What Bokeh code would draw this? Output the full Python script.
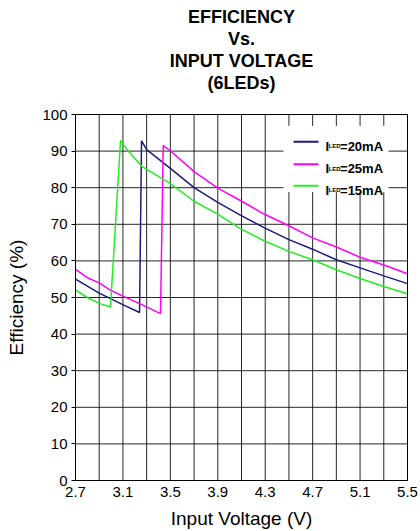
from bokeh.plotting import figure
from bokeh.models import FixedTicker, Label, Range1d, Title
from bokeh.embed import file_html
from bokeh.resources import INLINE

# ---- data ----
v15 = [2.7, 2.8, 2.9, 2.995, 3.08, 3.136, 3.26, 3.5, 3.7, 3.9, 4.09, 4.29, 4.5, 4.7, 4.9, 5.1, 5.3, 5.5]
e15 = [52.1, 50.0, 48.4, 47.4, 92.9, 90.4, 85.8, 81.1, 76.3, 72.8, 68.8, 65.5, 62.6, 60.3, 57.6, 55.2, 53.0, 51.0]

v20 = [2.7, 2.9, 3.09, 3.24, 3.257, 3.3, 3.5, 3.7, 3.9, 4.09, 4.29, 4.5, 4.7, 4.9, 5.1, 5.3, 5.5]
e20 = [55.0, 51.2, 48.2, 45.9, 92.8, 90.4, 85.3, 80.0, 76.0, 72.5, 69.1, 65.8, 63.2, 60.3, 58.1, 55.9, 53.8]

v25 = [2.7, 2.8, 2.9, 3.0, 3.09, 3.25, 3.417, 3.44, 3.5, 3.7, 3.9, 4.09, 4.29, 4.5, 4.7, 4.9, 5.1, 5.3, 5.5]
e25 = [57.7, 55.4, 54.0, 51.9, 50.5, 48.2, 45.6, 91.5, 90.1, 84.4, 79.9, 76.5, 72.8, 69.6, 66.3, 63.8, 61.0, 58.9, 56.5]

x_ticks = [2.7, 3.1, 3.5, 3.9, 4.3, 4.7, 5.1, 5.5]
x_grid = [2.7, 2.9, 3.1, 3.3, 3.5, 3.7, 3.9, 4.1, 4.3, 4.5, 4.7, 4.9, 5.1, 5.3, 5.5]
y_ticks = [0, 10, 20, 30, 40, 50, 60, 70, 80, 90, 100]

title_lines = ["EFFICIENCY", "Vs.", "INPUT VOLTAGE", "(6LEDs)"]
series_labels = ["=20mA", "=25mA", "=15mA"]
series_colors = ["#1a1a80", "#ff00ff", "#22ee22"]

FONT = "Liberation Sans"
X_MIN, X_MAX, Y_MIN, Y_MAX = 2.7, 5.5, 0, 100
# legend box (data units) where the grid is interrupted
LB_LEFT, LB_RIGHT, LB_TOP, LB_BOTTOM = 4.454, 5.34, 96.9, 78.8

p = figure(width=420, height=531, output_backend="svg", toolbar_location=None,
           x_range=Range1d(X_MIN, X_MAX), y_range=Range1d(Y_MIN, Y_MAX),
           min_border_left=75, min_border_right=13, min_border_top=114, min_border_bottom=50)

# title: p.title is outermost; extra Titles added nearest-first (first = blank spacer)
p.title.text = title_lines[0]
titles = [p.title]
spacer = Title(text=" ")
p.add_layout(spacer, "above")
titles.append(spacer)
for t in reversed(title_lines[1:]):
    tt = Title(text=t)
    p.add_layout(tt, "above")
    titles.append(tt)
for tt in titles:
    tt.align = "center"
    tt.text_font = FONT
    tt.text_font_size = "18px"
    tt.text_font_style = "bold"
    tt.text_color = "black"
    tt.standoff = 0
    tt.offset = 0

p.outline_line_color = "black"
p.outline_line_width = 1
p.outline_line_alpha = 1

p.xaxis.ticker = FixedTicker(ticks=x_ticks)
p.yaxis.ticker = FixedTicker(ticks=y_ticks)
p.grid.visible = False

# grid drawn as segments, interrupted where the legend sits
gx0, gy0, gx1, gy1 = [], [], [], []
for gx in x_grid:
    if LB_LEFT < gx < LB_RIGHT:
        gx0 += [gx, gx]; gx1 += [gx, gx]
        gy0 += [Y_MIN, LB_TOP]; gy1 += [LB_BOTTOM, Y_MAX]
    else:
        gx0.append(gx); gx1.append(gx); gy0.append(Y_MIN); gy1.append(Y_MAX)
for gy in y_ticks:
    if LB_BOTTOM < gy < LB_TOP:
        gx0 += [X_MIN, LB_RIGHT]; gx1 += [LB_LEFT, X_MAX]
        gy0 += [gy, gy]; gy1 += [gy, gy]
    else:
        gx0.append(X_MIN); gx1.append(X_MAX); gy0.append(gy); gy1.append(gy)
p.segment(x0=gx0, y0=gy0, x1=gx1, y1=gy1, line_color="black", line_alpha=0.85, line_width=1)

for ax in (p.xaxis, p.yaxis):
    ax.axis_line_color = "black"
    ax.major_tick_line_color = "black"
    ax.minor_tick_line_color = None
    ax.major_label_text_font = FONT
    ax.major_label_text_font_size = "15px"
    ax.major_label_text_color = "black"
    ax.axis_label_text_font = FONT
    ax.axis_label_text_font_size = "19px"
    ax.axis_label_text_font_style = "normal"
    ax.axis_label_text_color = "black"
    ax.major_tick_in = 0

p.xaxis.major_tick_out = 0
p.yaxis.major_tick_out = 4
p.xaxis.major_label_standoff = 6
p.yaxis.major_label_standoff = 4
p.xaxis.axis_label = "Input Voltage (V)"
p.yaxis.axis_label = "Efficiency (%)"
p.xaxis.axis_label_standoff = 8
p.yaxis.axis_label_standoff = 12

p.line(v20, e20, line_color=series_colors[0], line_width=1.5)
p.line(v25, e25, line_color=series_colors[1], line_width=1.5)
p.line(v15, e15, line_color=series_colors[2], line_width=1.5)

# ---- manual legend ----
leg_line_x = (4.539, 4.749)
leg_text_x = 4.808
leg_rows_y = [92.56, 86.43, 80.5]
for lab, col, yy in zip(series_labels, series_colors, leg_rows_y):
    p.segment(x0=[leg_line_x[0]], y0=[yy], x1=[leg_line_x[1]], y1=[yy],
              line_color=col, line_width=2)
    common = dict(x=leg_text_x, y=yy, y_offset=-4.6, text_baseline="alphabetic",
                  text_font=FONT, text_font_style="bold", text_color="black")
    p.add_layout(Label(text="I", text_font_size="13px", x_offset=0, **common))
    p.add_layout(Label(text="LED", text_font_size="6px", x_offset=3.2, **common))
    p.add_layout(Label(text=lab, text_font_size="13px", x_offset=14.6, **common))

open("out.html", "w").write(file_html(p, INLINE))
